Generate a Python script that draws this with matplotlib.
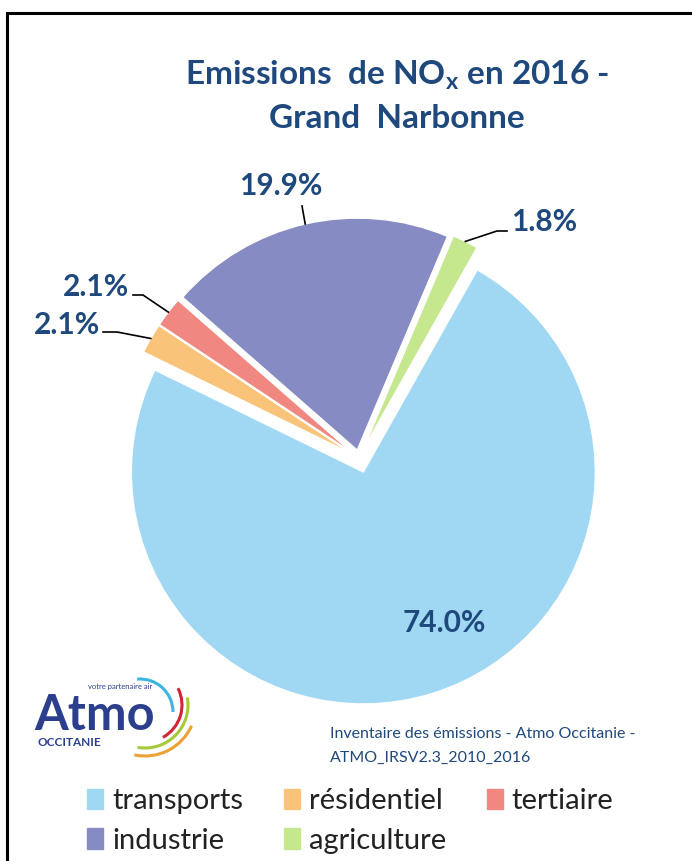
import numpy as np
import matplotlib.pyplot as plt
from matplotlib.patches import Arc, Rectangle

categories = ['transports', 'résidentiel', 'tertiaire', 'industrie', 'agriculture']
shares = [74.0, 2.1, 2.1, 19.9, 1.8]
labels = ['74.0%', '2.1%', '2.1%', '19.9%', '1.8%']
colors = ['#A0D8F3', '#F9C479', '#F08780', '#878BC3', '#C5E78E']

DARK = '#1F497D'
FONT = ['Lato', 'DejaVu Sans']

W, H = 692, 861
fig = plt.figure(figsize=(W / 100, H / 100), dpi=100)
fig.patch.set_facecolor('white')

# outer frame
fig.add_artist(Rectangle((7 / W, -0.1), 1.0, (H - 13) / H + 0.1, transform=fig.transFigure,
                         fill=False, edgecolor='black', linewidth=2.2))

# pie axes: centre (359, 458) px, radius 232 px
cx, cy, R = 359, 458, 232
half = 1.2 * R
ax = fig.add_axes([(cx - half) / W, (H - cy - half) / H, 2 * half / W, 2 * half / H])

def px(x, y):
    return (x - cx) / R, (cy - y) / R

wedges, _ = ax.pie(shares, colors=colors, startangle=60.6, counterclock=False,
                   explode=[0.063, 0.035, 0.035, 0.035, 0.04],
                   wedgeprops=dict(edgecolor='white', linewidth=1))
ax.set_xlim(-1.2, 1.2)
ax.set_ylim(-1.2, 1.2)
ax.set_aspect('equal')
ax.axis('off')

lab_kw = dict(color=DARK, fontsize=21.5, fontweight='bold', family=FONT)

# inside label for transports
ax.text(*px(444, 623), labels[0], ha='center', va='center', **lab_kw)

# outside labels with leader lines: (text pos, ha, elbow points)
outside = {
    1: ((100, 325), 'right', [(103, 332), (117, 332)]),
    2: ((129, 287), 'right', [(133, 295), (143, 295)]),
    3: ((281, 186), 'center', [(302, 206)]),
    4: ((511, 222), 'left', [(507, 231), (497, 231)]),
}
for i, (tpos, ha, pts) in outside.items():
    w = wedges[i]
    mid = np.deg2rad((w.theta1 + w.theta2) / 2)
    ax_x = w.center[0] + w.r * np.cos(mid)
    ax_y = w.center[1] + w.r * np.sin(mid)
    line = [px(*p) for p in pts] + [(ax_x, ax_y)]
    ax.plot([p[0] for p in line], [p[1] for p in line], color='black', lw=1.2)
    ax.text(*px(*tpos), labels[i], ha=ha, va='center', **lab_kw)

# title
fig.text(397 / W, 1 - 75 / H, r'Emissions  de NO$_\mathregular{x}$ en 2016 -', ha='center', va='center',
         color=DARK, fontsize=24, fontweight='bold', family=FONT)
fig.text(397 / W, 1 - 118 / H, 'Grand  Narbonne', ha='center', va='center',
         color=DARK, fontsize=24, fontweight='bold', family=FONT)

# source
fig.text(330 / W, 1 - 734 / H, 'Inventaire des émissions - Atmo Occitanie -', ha='left', va='center',
         color=DARK, fontsize=11.5, family=FONT)
fig.text(330 / W, 1 - 758 / H, 'ATMO_IRSV2.3_2010_2016', ha='left', va='center',
         color=DARK, fontsize=11.5, family=FONT)

# logo
fig.text(34 / W, 1 - 715 / H, 'Atmo', ha='left', va='center', color='#2B3F8C',
         fontsize=35, fontweight='bold', family=FONT)
fig.text(37 / W, 1 - 742 / H, 'OCCITANIE', ha='left', va='center', color='#2B3F8C',
         fontsize=8.5, fontweight='bold', family=FONT)
fig.text(88 / W, 1 - 686 / H, 'votre partenaire air', ha='left', va='center', color='#2B3F8C',
         fontsize=5.5, family=FONT)
lax = fig.add_axes([0, 0, 1, 1], facecolor='none')
lax.set_xlim(0, W)
lax.set_ylim(0, H)
lax.axis('off')
arc_specs = [
    ((140, 712), 33, 0, 95, '#3CB6E0'),
    ((145, 705), 37, -61, 27, '#D0263A'),
    ((145, 705), 43, -100, 10, '#A6C93A'),
    ((145, 705), 51, -102, -24, '#EBA133'),
]
for (x0, y0), r, t1, t2, c in arc_specs:
    lax.add_patch(Arc((x0, H - y0), 2 * r, 2 * r, theta1=t1, theta2=t2, color=c, lw=2.2))

# legend, row-wise order
order = [0, 3, 1, 4, 2]
handles = [Rectangle((0, 0), 1, 1, color=colors[i]) for i in order]
leg = fig.legend(handles, [categories[i] for i in order], ncol=3, loc='center left',
                 bbox_to_anchor=(61 / W, 1 - 821 / H), frameon=False,
                 prop=dict(family=FONT, size=21), handlelength=0.55, handleheight=0.7,
                 handletextpad=0.3, columnspacing=1.4, labelspacing=0.45)
for t in leg.get_texts():
    t.set_color('#222222')

fig.savefig('out.png', dpi=100)
